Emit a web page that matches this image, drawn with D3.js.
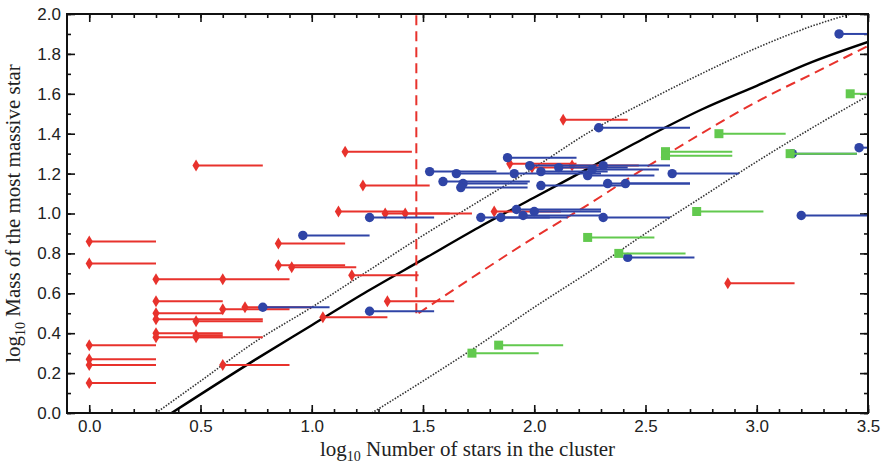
<!DOCTYPE html>
<html>
<head>
<meta charset="utf-8">
<title>Most massive star vs cluster size</title>
<style>
  body { margin: 0; background: #fff; }
  svg { display: block; font-family: "Liberation Serif", "Times New Roman", serif; }
  .axis text { font-size: 17px; fill: #222; }
  .axis line { stroke: #111; stroke-width: 1.6; }
  .axis path { display: none; }
</style>
</head>
<body>
<script src="https://d3js.org/d3.v7.min.js"></script>
<script>

// tick labels
var xTicks = [0.0, 0.5, 1.0, 1.5, 2.0, 2.5, 3.0, 3.5];
var yTicks = [0.0, 0.2, 0.4, 0.6, 0.8, 1.0, 1.2, 1.4, 1.6, 1.8, 2.0];

// clusters: [log N (marker), log m_max, log N (end of range)]
var redPoints = [
    [0.00, 0.86, 0.30], [0.00, 0.75, 0.30], [0.00, 0.34, 0.30], [0.00, 0.27, 0.30],
    [0.00, 0.24, 0.30], [0.00, 0.15, 0.30], [0.30, 0.67, 0.60], [0.60, 0.67, 0.90],
    [0.30, 0.56, 0.60], [0.30, 0.50, 0.60], [0.30, 0.47, 0.78], [0.48, 0.46, 0.78],
    [0.30, 0.40, 0.60], [0.30, 0.38, 0.78], [0.48, 0.39, 0.60], [0.48, 0.38, 0.60],
    [0.60, 0.52, 0.90], [0.70, 0.53, 1.00], [0.60, 0.24, 0.90], [0.48, 1.24, 0.78],
    [0.85, 0.85, 1.15], [0.85, 0.74, 1.15], [0.91, 0.73, 1.20], [1.18, 0.69, 1.48],
    [1.05, 0.48, 1.34], [1.34, 0.56, 1.64], [1.15, 1.31, 1.45], [1.23, 1.14, 1.53],
    [1.12, 1.01, 1.42], [1.33, 1.00, 1.62], [1.42, 1.00, 1.72], [1.82, 1.01, 2.12],
    [2.13, 1.47, 2.42], [1.89, 1.25, 2.19], [1.99, 1.23, 2.29], [2.17, 1.24, 2.47],
    [2.87, 0.65, 3.17]
];

var bluePoints = [
    [0.78, 0.53, 1.08], [0.96, 0.89, 1.26], [1.26, 0.98, 1.55], [1.26, 0.51, 1.55],
    [1.53, 1.21, 1.83], [1.65, 1.20, 1.89], [1.59, 1.16, 1.98], [1.68, 1.15, 1.97],
    [1.67, 1.13, 1.97], [1.88, 1.28, 2.19], [1.91, 1.20, 2.30], [1.98, 1.24, 2.28],
    [2.03, 1.21, 2.33], [2.11, 1.23, 2.42], [2.03, 1.14, 2.40], [2.24, 1.19, 2.54],
    [2.26, 1.22, 2.56], [2.31, 1.24, 2.61], [2.29, 1.43, 2.70], [2.33, 1.15, 2.70],
    [2.41, 1.15, 2.70], [2.62, 1.20, 2.92], [1.76, 0.98, 2.07], [1.85, 0.98, 2.15],
    [1.92, 1.02, 2.30], [1.95, 0.99, 2.30], [2.00, 1.01, 2.30], [2.31, 0.98, 2.61],
    [2.42, 0.78, 2.72], [3.37, 1.90, 3.50], [3.46, 1.33, 3.50], [3.16, 1.30, 3.45],
    [3.20, 0.99, 3.50]
];

var greenPoints = [
    [1.72, 0.30, 2.02], [1.84, 0.34, 2.13], [2.24, 0.88, 2.54], [2.38, 0.80, 2.68],
    [2.59, 1.31, 2.89], [2.59, 1.29, 2.89], [2.73, 1.01, 3.03], [2.83, 1.40, 3.13],
    [3.15, 1.30, 3.45], [3.42, 1.60, 3.50]
];

// relation and its spread
var meanCurve = [[0.37, 0.00], [0.75, 0.27], [1.00, 0.44], [1.25, 0.61], [1.50, 0.77],
    [1.75, 0.93], [2.00, 1.08], [2.25, 1.23], [2.50, 1.38], [2.75, 1.52],
    [3.00, 1.64], [3.25, 1.76], [3.50, 1.86]];
var upperCurve = [[0.30, 0.00], [0.50, 0.16], [0.75, 0.36], [1.00, 0.53], [1.25, 0.71],
    [1.50, 0.89], [1.75, 1.06], [2.00, 1.23], [2.25, 1.41], [2.50, 1.56],
    [2.75, 1.70], [3.00, 1.83], [3.25, 1.94], [3.42, 2.00]];
var lowerCurve = [[1.27, 0.00], [1.50, 0.16], [1.75, 0.34], [2.00, 0.53], [2.25, 0.71],
    [2.50, 0.90], [2.75, 1.08], [3.00, 1.26], [3.25, 1.43], [3.50, 1.59]];
var dashedCurve = [[1.48, 0.50], [1.75, 0.70], [2.00, 0.88], [2.25, 1.05], [2.50, 1.23],
    [2.75, 1.40], [3.00, 1.56], [3.25, 1.70], [3.50, 1.84]];
var dashedLimit = [[1.47, 0.50], [1.47, 2.00]];

var red = "#e8322c", blue = "#2f44a6", green = "#62c94e";

var margin = {top: 14, right: 15, bottom: 53, left: 67},
    width = 883 - margin.left - margin.right,
    height = 466 - margin.top - margin.bottom;

var x = d3.scaleLinear().domain([-0.1, 3.5]).range([0, width]);
var y = d3.scaleLinear().domain([0, 2]).range([height, 0]);

var svg = d3.select("body").append("svg")
        .attr("width", width + margin.left + margin.right)
        .attr("height", height + margin.top + margin.bottom)
    .append("g")
        .attr("transform", "translate(" + margin.left + "," + margin.top + ")");

svg.append("clipPath").attr("id", "plot")
    .append("rect").attr("width", width).attr("height", height);

// minor ticks every 0.1
var xMinor = d3.range(0, 36).map(function(i) { return i / 10; });
var yMinor = d3.range(0, 21).map(function(i) { return i / 10; });
var fmt = d3.format(".1f");

svg.append("g").attr("class", "axis").attr("transform", "translate(0," + height + ")")
    .call(d3.axisBottom(x).tickValues(xMinor).tickSize(-4).tickFormat(""));
svg.append("g").attr("class", "axis").attr("transform", "translate(0," + height + ")")
    .call(d3.axisBottom(x).tickValues(xTicks).tickSize(-8).tickPadding(7).tickFormat(fmt));
svg.append("g").attr("class", "axis")
    .call(d3.axisTop(x).tickValues(xMinor).tickSize(-4).tickFormat(""));
svg.append("g").attr("class", "axis")
    .call(d3.axisTop(x).tickValues(xTicks).tickSize(-8).tickFormat(""));

svg.append("g").attr("class", "axis")
    .call(d3.axisLeft(y).tickValues(yMinor).tickSize(-4).tickFormat(""));
svg.append("g").attr("class", "axis")
    .call(d3.axisLeft(y).tickValues(yTicks).tickSize(-8).tickPadding(6).tickFormat(fmt));
svg.append("g").attr("class", "axis").attr("transform", "translate(" + width + ",0)")
    .call(d3.axisRight(y).tickValues(yMinor).tickSize(-4).tickFormat(""));
svg.append("g").attr("class", "axis").attr("transform", "translate(" + width + ",0)")
    .call(d3.axisRight(y).tickValues(yTicks).tickSize(-8).tickFormat(""));

// curves
var line = d3.line()
    .x(function(d) { return x(d[0]); })
    .y(function(d) { return y(d[1]); })
    .curve(d3.curveMonotoneX);

var curves = svg.append("g").attr("clip-path", "url(#plot)").attr("fill", "none");
curves.append("path").attr("d", line(upperCurve))
    .attr("stroke", "#333").attr("stroke-width", 1.6).attr("stroke-dasharray", "1.5,1.5");
curves.append("path").attr("d", line(lowerCurve))
    .attr("stroke", "#333").attr("stroke-width", 1.6).attr("stroke-dasharray", "1.5,1.5");
curves.append("path").attr("d", line(meanCurve))
    .attr("stroke", "#000").attr("stroke-width", 2.4);
curves.append("path").attr("d", line(dashedCurve))
    .attr("stroke", red).attr("stroke-width", 2).attr("stroke-dasharray", "10,6");
curves.append("path").attr("d", d3.line().x(function(d) { return x(d[0]); }).y(function(d) { return y(d[1]); })(dashedLimit))
    .attr("stroke", red).attr("stroke-width", 2).attr("stroke-dasharray", "10,6");

// ranges then markers for each sample
function drawSet(data, color, shape) {
    var g = svg.append("g");
    g.selectAll("line").data(data).enter().append("line")
        .attr("x1", function(d) { return x(d[0]); })
        .attr("x2", function(d) { return x(d[2]); })
        .attr("y1", function(d) { return y(d[1]); })
        .attr("y2", function(d) { return y(d[1]); })
        .attr("stroke", color).attr("stroke-width", 2);
    g.selectAll("path").data(data).enter().append("path")
        .attr("transform", function(d) { return "translate(" + x(d[0]) + "," + y(d[1]) + ")"; })
        .attr("d", shape)
        .attr("fill", color);
}

drawSet(redPoints, red, "M0,-6L3.6,0L0,6L-3.6,0Z");
drawSet(bluePoints, blue, d3.symbol(d3.symbolCircle, 70)());
drawSet(greenPoints, green, "M-4.5,-4.5H4.5V4.5H-4.5Z");

// frame
svg.append("rect").attr("width", width).attr("height", height)
    .attr("fill", "none").attr("stroke", "#111").attr("stroke-width", 2);

// axis titles with subscript 10
var xt = svg.append("text").attr("x", width / 2).attr("y", height + 43)
    .attr("text-anchor", "middle").attr("font-size", 21).attr("fill", "#222");
xt.append("tspan").text("log");
xt.append("tspan").attr("dy", 5).attr("font-size", 14).text("10");
xt.append("tspan").attr("dy", -5).text(" Number of stars in the cluster");

var yt = svg.append("text").attr("transform", "translate(-47," + (height / 2) + ") rotate(-90)")
    .attr("text-anchor", "middle").attr("font-size", 21).attr("fill", "#222");
yt.append("tspan").text("log");
yt.append("tspan").attr("dy", 5).attr("font-size", 14).text("10");
yt.append("tspan").attr("dy", -5).text(" Mass of the most massive star");

</script>
</body>
</html>
